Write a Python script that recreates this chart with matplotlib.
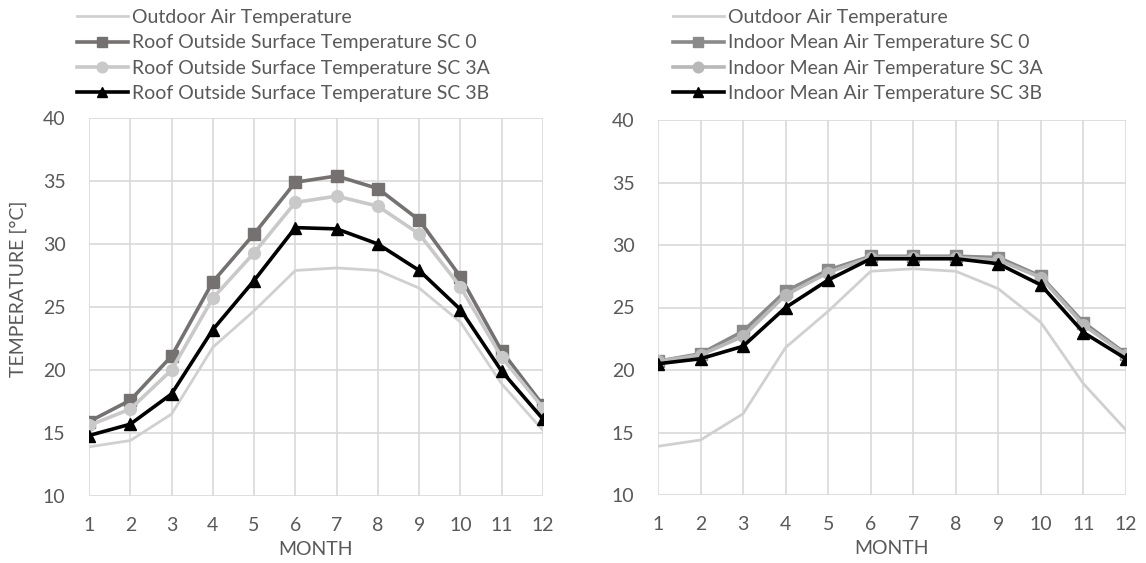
import matplotlib
matplotlib.use("Agg")
import matplotlib.pyplot as plt
from matplotlib.ticker import MultipleLocator

plt.rcParams['font.family'] = ['Lato', 'DejaVu Sans']

months = list(range(1, 13))

outdoor = [13.9, 14.4, 16.5, 21.8, 24.7, 27.9, 28.1, 27.9, 26.5, 23.8, 18.9, 15.2]

roof_sc0 = [15.9, 17.6, 21.1, 27.0, 30.8, 34.9, 35.4, 34.4, 31.9, 27.4, 21.5, 17.2]
roof_sc3a = [15.6, 16.9, 20.0, 25.7, 29.3, 33.3, 33.8, 33.0, 30.8, 26.6, 21.0, 17.0]
roof_sc3b = [14.8, 15.7, 18.1, 23.2, 27.1, 31.3, 31.2, 30.0, 27.9, 24.8, 19.9, 16.1]

indoor_sc0 = [20.7, 21.3, 23.1, 26.3, 28.0, 29.1, 29.1, 29.1, 29.0, 27.5, 23.8, 21.3]
indoor_sc3a = [20.7, 21.2, 22.7, 26.0, 27.8, 29.0, 29.0, 29.0, 28.8, 27.4, 23.6, 21.2]
indoor_sc3b = [20.5, 20.9, 21.9, 25.0, 27.2, 28.9, 28.9, 28.9, 28.5, 26.8, 23.0, 20.9]

roof_labels = ["Outdoor Air Temperature",
               "Roof Outside Surface Temperature SC 0",
               "Roof Outside Surface Temperature SC 3A",
               "Roof Outside Surface Temperature SC 3B"]
indoor_labels = ["Outdoor Air Temperature",
                 "Indoor Mean Air Temperature SC 0",
                 "Indoor Mean Air Temperature SC 3A",
                 "Indoor Mean Air Temperature SC 3B"]

TEXT = "#595959"
GRID = "#d9d9d9"
FS = 14
W, H = 1146, 563

fig = plt.figure(figsize=(W / 100, H / 100), dpi=100)


def px_axes(l, t, r, b):
    return fig.add_axes([l / W, 1 - b / H, (r - l) / W, (b - t) / H])


def draw_panel(ax, series, labels, colors, leg_anchor):
    ax.plot(months, outdoor, color="#d0d0d0", lw=2.0, label=labels[0], zorder=3)
    ax.plot(months, series[0], color=colors[0], lw=2.6, marker="s", ms=8,
            label=labels[1], zorder=4)
    ax.plot(months, series[1], color=colors[1], lw=2.6, marker="o", ms=8.5,
            label=labels[2], zorder=5)
    ax.plot(months, series[2], color="black", lw=2.6, marker="^", ms=8.5,
            label=labels[3], zorder=6)
    ax.set_xlim(1, 12)
    ax.set_ylim(10, 40)
    ax.set_xticks(months)
    ax.yaxis.set_major_locator(MultipleLocator(5))
    ax.grid(True, color=GRID, lw=1.2, zorder=0)
    for s in ax.spines.values():
        s.set_visible(False)
    ax.tick_params(length=0, labelsize=FS, colors=TEXT)
    ax.tick_params(axis="x", pad=15)
    ax.tick_params(axis="y", pad=17)
    ax.set_axisbelow(True)
    ax.set_xlabel("MONTH", fontsize=FS, color=TEXT, labelpad=5)
    leg = ax.legend(loc="upper left", bbox_to_anchor=leg_anchor,
                    bbox_transform=fig.transFigure, frameon=False,
                    fontsize=FS, handlelength=2.6, handletextpad=0.25,
                    labelspacing=0.43, borderpad=0, borderaxespad=0,
                    markerscale=0.9)
    for t in leg.get_texts():
        t.set_color(TEXT)


ax1 = px_axes(89, 118, 543, 496)
draw_panel(ax1, [roof_sc0, roof_sc3a, roof_sc3b], roof_labels,
           ["#767171", "#c9c9c9"], (77 / W, 1 - 9 / H))

ax2 = px_axes(658, 120, 1126, 495)
draw_panel(ax2, [indoor_sc0, indoor_sc3a, indoor_sc3b], indoor_labels,
           ["#8a8a8a", "#b8b8b8"], (673 / W, 1 - 9 / H))

fig.text(18 / W, 1 - 289 / H, "TEMPERATURE [°C]", rotation=90, fontsize=FS,
         color=TEXT, ha="center", va="center")

fig.savefig("out.png", dpi=100, facecolor="white")
